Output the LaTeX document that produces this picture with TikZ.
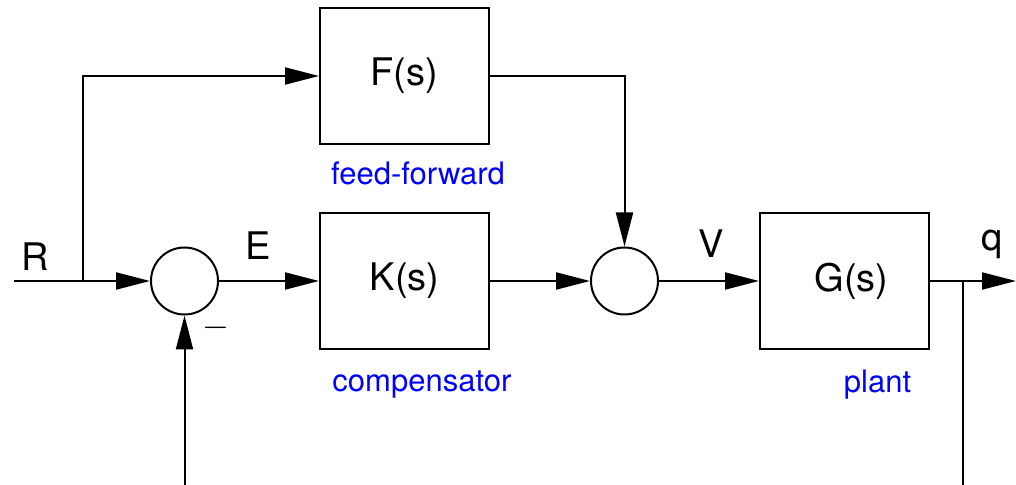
\documentclass[tikz,border=0pt]{standalone}
\usepackage{fontspec}
\setmainfont{TeX Gyre Heros}
\usetikzlibrary{arrows.meta,positioning}

\begin{document}
\begin{tikzpicture}[
  x=0.5pt, y=-0.5pt,
  node distance=50pt,
  block/.style={draw, line width=1pt, minimum width=84.5pt, minimum height=68pt,
    font=\fontsize{19}{22}\selectfont},
  sumnode/.style={draw, circle, line width=1pt, minimum size=33.5pt, inner sep=0pt},
  caption/.style={text=blue, inner sep=0pt, font=\fontsize{15.5}{18}\selectfont},
  signal/.style={font=\fontsize{19}{22}\selectfont},
  line/.style={line width=1pt},
  arrow/.style={-{Triangle[length=17pt,width=8.5pt]}, line width=1pt}
]
\useasboundingbox (0,0) rectangle (1016,485);
\node[sumnode] (sum1) at (184.5,281) {};
\node[block, right=of sum1] (comp) {K(s)};
\node[block, above=33.5pt of comp] (ff) {F(s)};
\node[sumnode, right=of comp] (sum2) {};
\node[block, right=of sum2] (plant) {\hspace{7pt}G(s)};
\coordinate (in) at (14,281);
\coordinate (split) at (83,281);
\coordinate (tap) at (963,281);
\coordinate (out) at (1016,281);
\coordinate (fbend) at (963,485);
\coordinate (fbstart) at (184.5,485);
\draw[line] (in) -- (split);
\draw[arrow] (split) -- (sum1);
\draw[arrow] (split) |- (ff);
\draw[arrow] (sum1) -- (comp);
\draw[arrow] (comp) -- (sum2);
\draw[arrow] (ff) -| (sum2);
\draw[arrow] (sum2) -- (plant);
\draw[line] (plant) -- (tap);
\draw[arrow] (tap) -- (out);
\draw[line] (tap) -- (fbend);
\draw[arrow] (fbstart) -- (sum1);
\node[signal] (lblR) at (35,257) {R};
\node[signal] (lblE) at (258,246) {E};
\node[signal] (lblV) at (711,244) {V};
\node[signal] (lblq) at (992,244) {q};
\node[font=\fontsize{19}{22}\selectfont] (minus) at (216,328) {$-$};
\node[caption, below=8pt of ff, xshift=6.75pt] (ffcap) {feed-forward};
\node[caption, below=10pt of comp, xshift=8.75pt] (compcap) {compensator};
\node[caption, below=10pt of plant, xshift=16.5pt] (plantcap) {plant};
\end{tikzpicture}
\end{document}
